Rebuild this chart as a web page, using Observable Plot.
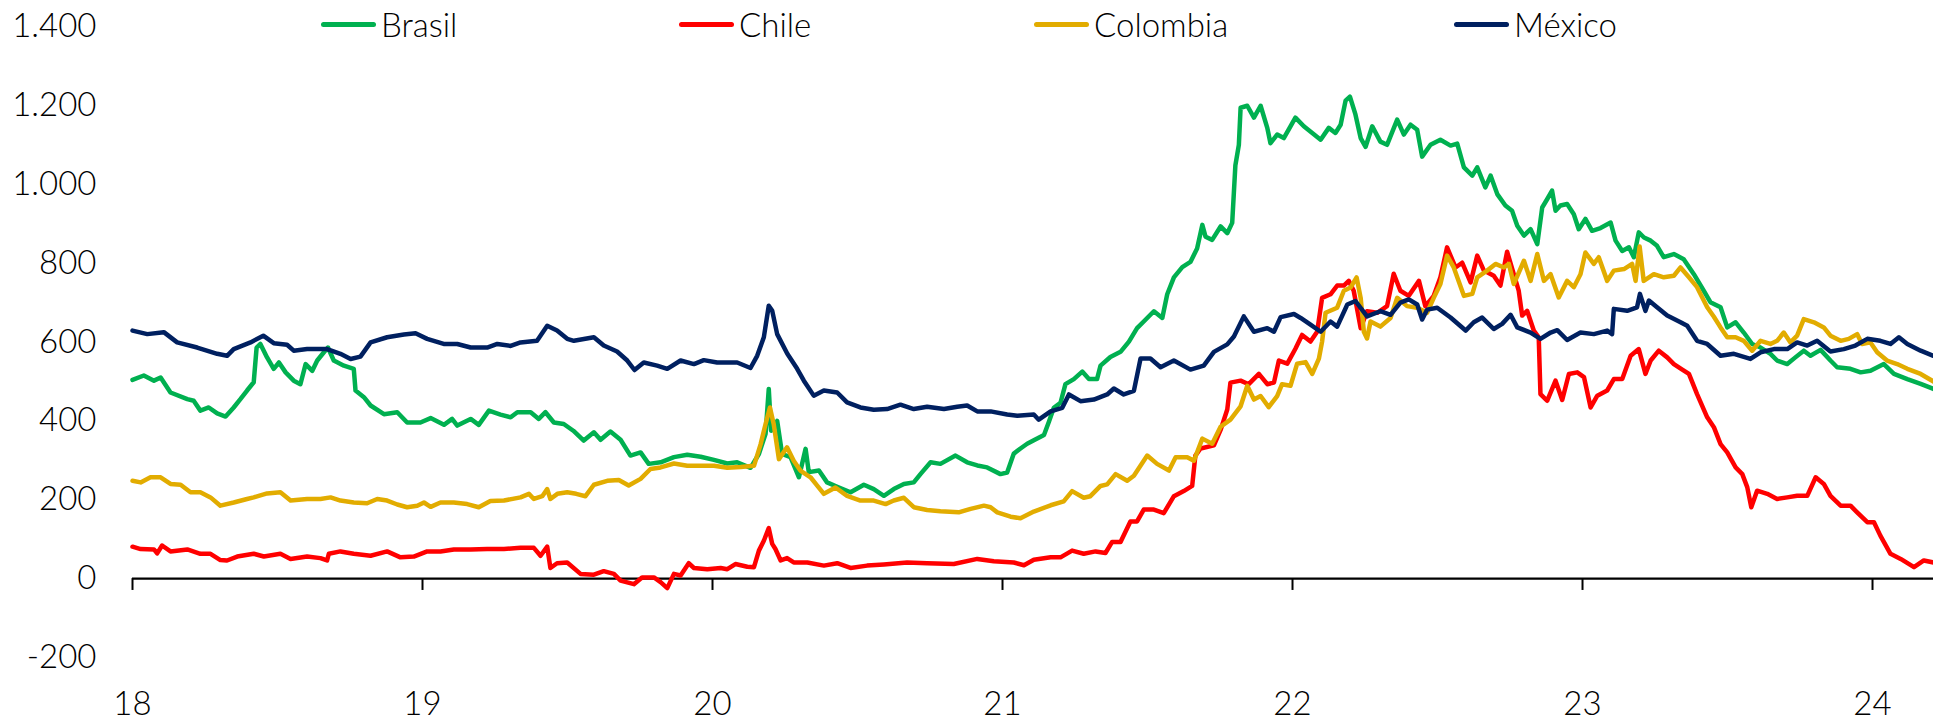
<!DOCTYPE html>
<html>
<head>
<meta charset="utf-8">
<script src="https://cdn.jsdelivr.net/npm/d3@7"></script>
<script src="https://cdn.jsdelivr.net/npm/@observablehq/plot@0.6"></script>
<style>
  html, body { margin: 0; padding: 0; background: #fff; }
  #wrap { position: relative; width: 1933px; height: 721px; font-family: Lato, "Open Sans", sans-serif; font-weight: 300; color: #000; }
  #legend { position: absolute; left: 0; top: 0; width: 1933px; height: 50px; pointer-events: none; }
  .item { position: absolute; top: 8px; height: 33px; line-height: 33px; display: flex; align-items: center; font-size: 33px; white-space: nowrap; }
  .sw { width: 55px; height: 5px; border-radius: 3px; margin-right: 5px; }
  #chart svg { display: block; }
</style>
</head>
<body>
<div id="wrap">
  <div id="chart"></div>
  <div id="legend"></div>
</div>
<script>
// Tick values
const xTicks = [18, 19, 20, 21, 22, 23, 24];
const yTicks = [-200, 0, 200, 400, 600, 800, 1000, 1200, 1400];

// Series names and colours
const names = ["Brasil", "Chile", "Colombia", "México"];
const colors = ["#00B050", "#FF0000", "#E2AC00", "#002060"];

// [year (two-digit, decimal), value]
const brasil = [
[18.000,504],[18.039,515],[18.074,502],[18.097,510],[18.131,472],[18.189,455],[18.211,451],[18.234,426],[18.263,434],[18.292,419],[18.321,411],[18.349,434],[18.372,455],[18.395,477],[18.418,498],[18.428,586],[18.441,595],[18.464,561],[18.487,532],[18.505,548],[18.528,523],[18.556,502],[18.579,493],[18.597,544],[18.620,527],[18.637,553],[18.660,574],[18.674,586],[18.694,553],[18.729,540],[18.763,532],[18.769,477],[18.798,460],[18.821,439],[18.867,417],[18.913,422],[18.947,396],[18.993,396],[19.028,407],[19.074,390],[19.102,405],[19.120,388],[19.166,405],[19.194,390],[19.229,426],[19.269,416],[19.304,409],[19.327,422],[19.373,422],[19.401,405],[19.424,422],[19.453,396],[19.487,392],[19.520,375],[19.556,350],[19.591,371],[19.614,352],[19.648,373],[19.683,352],[19.717,312],[19.752,320],[19.780,291],[19.821,295],[19.867,308],[19.913,314],[19.959,309],[20.005,301],[20.051,292],[20.085,295],[20.131,281],[20.160,316],[20.183,367],[20.194,481],[20.202,375],[20.223,400],[20.240,316],[20.269,308],[20.298,257],[20.321,329],[20.332,270],[20.367,274],[20.395,244],[20.430,233],[20.476,219],[20.522,238],[20.556,227],[20.591,210],[20.625,227],[20.660,240],[20.694,244],[20.717,265],[20.752,295],[20.786,291],[20.838,312],[20.878,295],[20.913,287],[20.947,282],[20.993,265],[21.016,269],[21.039,317],[21.062,330],[21.085,342],[21.108,351],[21.143,364],[21.160,398],[21.177,433],[21.200,446],[21.217,493],[21.246,506],[21.275,525],[21.298,506],[21.326,506],[21.338,540],[21.372,562],[21.407,575],[21.436,601],[21.464,635],[21.487,652],[21.522,678],[21.551,661],[21.568,721],[21.591,764],[21.620,790],[21.648,803],[21.671,837],[21.689,897],[21.700,867],[21.723,859],[21.752,893],[21.775,876],[21.792,902],[21.803,1048],[21.815,1100],[21.821,1194],[21.844,1199],[21.867,1169],[21.890,1199],[21.913,1143],[21.924,1104],[21.947,1126],[21.970,1117],[21.993,1147],[22.010,1169],[22.039,1147],[22.068,1130],[22.097,1113],[22.125,1143],[22.148,1130],[22.166,1151],[22.183,1212],[22.198,1222],[22.217,1177],[22.235,1117],[22.252,1095],[22.275,1147],[22.303,1108],[22.326,1100],[22.361,1164],[22.384,1126],[22.407,1151],[22.430,1138],[22.447,1070],[22.476,1100],[22.510,1113],[22.545,1098],[22.568,1103],[22.591,1043],[22.620,1022],[22.637,1043],[22.665,992],[22.683,1022],[22.706,975],[22.734,946],[22.757,933],[22.775,895],[22.798,870],[22.821,886],[22.844,848],[22.861,941],[22.878,962],[22.895,984],[22.907,933],[22.924,946],[22.947,950],[22.970,924],[22.987,886],[23.010,912],[23.033,882],[23.062,889],[23.097,903],[23.114,857],[23.137,831],[23.160,840],[23.177,815],[23.194,878],[23.212,865],[23.235,857],[23.257,844],[23.280,815],[23.315,823],[23.349,810],[23.384,772],[23.418,730],[23.441,701],[23.476,688],[23.499,637],[23.528,650],[23.556,624],[23.585,595],[23.614,586],[23.648,570],[23.671,553],[23.706,544],[23.734,561],[23.763,578],[23.786,565],[23.821,580],[23.855,553],[23.878,536],[23.924,532],[23.959,523],[23.993,527],[24.039,544],[24.074,519],[24.120,506],[24.166,494],[24.210,481]
];

const chile = [
[18.000,81],[18.028,75],[18.074,74],[18.085,64],[18.102,84],[18.131,69],[18.189,74],[18.234,63],[18.269,63],[18.303,47],[18.326,46],[18.361,56],[18.418,63],[18.453,56],[18.510,63],[18.545,50],[18.602,56],[18.648,52],[18.671,46],[18.677,63],[18.717,69],[18.763,63],[18.821,58],[18.878,69],[18.924,54],[18.970,56],[19.016,69],[19.062,69],[19.108,74],[19.166,74],[19.223,75],[19.281,75],[19.338,78],[19.384,78],[19.407,58],[19.430,81],[19.441,27],[19.464,39],[19.499,41],[19.545,12],[19.591,10],[19.625,19],[19.660,12],[19.683,-5],[19.729,-14],[19.757,3],[19.798,3],[19.821,-9],[19.844,-24],[19.867,12],[19.890,8],[19.918,39],[19.936,27],[19.982,24],[20.028,27],[20.051,24],[20.079,37],[20.120,30],[20.143,29],[20.160,71],[20.177,96],[20.194,128],[20.206,88],[20.217,75],[20.235,46],[20.257,52],[20.280,41],[20.327,41],[20.384,33],[20.430,39],[20.476,27],[20.533,33],[20.591,36],[20.671,41],[20.740,39],[20.832,37],[20.913,50],[20.970,44],[21.039,41],[21.074,34],[21.108,48],[21.166,54],[21.200,54],[21.240,71],[21.280,63],[21.321,69],[21.355,65],[21.378,93],[21.407,93],[21.441,145],[21.464,145],[21.487,175],[21.522,175],[21.556,166],[21.591,209],[21.625,222],[21.654,235],[21.665,312],[21.683,330],[21.729,338],[21.752,377],[21.775,429],[21.786,497],[21.821,502],[21.849,493],[21.884,519],[21.913,493],[21.936,497],[21.953,553],[21.982,545],[22.010,583],[22.033,618],[22.062,601],[22.085,626],[22.102,712],[22.131,721],[22.154,743],[22.177,743],[22.194,755],[22.211,730],[22.235,635],[22.257,678],[22.292,674],[22.326,691],[22.349,773],[22.372,730],[22.401,717],[22.436,755],[22.458,691],[22.487,717],[22.510,764],[22.533,840],[22.562,789],[22.585,801],[22.614,751],[22.637,819],[22.660,781],[22.694,768],[22.717,743],[22.740,829],[22.763,772],[22.780,730],[22.792,667],[22.809,679],[22.832,629],[22.849,612],[22.855,468],[22.878,451],[22.907,502],[22.930,453],[22.953,519],[22.982,523],[23.005,511],[23.028,434],[23.051,464],[23.085,477],[23.108,506],[23.137,506],[23.166,565],[23.194,582],[23.217,519],[23.235,553],[23.263,578],[23.292,561],[23.315,544],[23.344,530],[23.367,519],[23.395,468],[23.430,409],[23.453,384],[23.476,341],[23.499,320],[23.528,282],[23.551,265],[23.568,232],[23.582,181],[23.602,223],[23.637,215],[23.671,202],[23.706,206],[23.740,210],[23.775,210],[23.804,257],[23.832,240],[23.855,210],[23.890,185],[23.924,185],[23.947,168],[23.982,143],[24.005,143],[24.027,109],[24.062,63],[24.097,50],[24.143,29],[24.177,46],[24.210,41]
];

const colombia = [
[18.000,248],[18.028,244],[18.062,257],[18.097,257],[18.131,240],[18.166,238],[18.200,219],[18.234,219],[18.269,206],[18.303,185],[18.349,193],[18.395,202],[18.418,206],[18.464,216],[18.510,219],[18.545,198],[18.602,202],[18.648,202],[18.683,206],[18.717,198],[18.763,193],[18.809,191],[18.844,202],[18.878,198],[18.913,188],[18.947,181],[18.982,185],[19.005,193],[19.028,182],[19.062,193],[19.108,193],[19.154,189],[19.194,181],[19.234,197],[19.281,198],[19.338,206],[19.367,215],[19.384,202],[19.413,209],[19.430,227],[19.441,202],[19.465,215],[19.499,219],[19.530,215],[19.562,209],[19.591,238],[19.637,248],[19.677,250],[19.711,236],[19.752,253],[19.786,278],[19.821,282],[19.867,292],[19.913,286],[19.959,286],[20.005,286],[20.051,281],[20.097,283],[20.143,286],[20.166,341],[20.183,392],[20.198,434],[20.211,392],[20.229,303],[20.257,333],[20.280,299],[20.303,274],[20.338,257],[20.361,236],[20.384,215],[20.424,231],[20.464,210],[20.510,198],[20.556,198],[20.597,189],[20.625,198],[20.660,205],[20.694,181],[20.740,174],[20.786,171],[20.849,168],[20.890,177],[20.936,185],[20.959,181],[20.982,168],[21.028,157],[21.062,153],[21.108,170],[21.166,186],[21.211,196],[21.240,222],[21.280,205],[21.303,209],[21.338,235],[21.361,239],[21.390,265],[21.430,248],[21.453,261],[21.499,312],[21.533,291],[21.574,274],[21.597,308],[21.637,308],[21.660,299],[21.689,355],[21.723,342],[21.752,385],[21.786,403],[21.821,437],[21.844,489],[21.867,454],[21.890,463],[21.918,435],[21.947,463],[21.964,493],[21.993,489],[22.016,545],[22.045,549],[22.068,519],[22.091,558],[22.102,601],[22.114,674],[22.154,687],[22.177,730],[22.200,738],[22.221,764],[22.235,712],[22.246,626],[22.257,609],[22.269,652],[22.303,639],[22.338,661],[22.361,712],[22.395,691],[22.430,687],[22.464,674],[22.487,712],[22.510,747],[22.533,819],[22.556,789],[22.591,717],[22.620,722],[22.637,764],[22.671,781],[22.700,798],[22.729,789],[22.746,798],[22.763,747],[22.798,806],[22.821,755],[22.844,823],[22.867,755],[22.890,772],[22.918,713],[22.947,755],[22.970,739],[22.993,772],[23.010,827],[23.039,798],[23.056,815],[23.085,755],[23.108,781],[23.143,785],[23.171,798],[23.183,755],[23.197,842],[23.211,755],[23.246,772],[23.280,764],[23.315,768],[23.338,789],[23.367,764],[23.395,739],[23.430,688],[23.453,664],[23.476,637],[23.499,612],[23.528,612],[23.556,603],[23.585,578],[23.614,603],[23.648,595],[23.671,603],[23.694,624],[23.717,599],[23.740,616],[23.763,658],[23.798,650],[23.832,637],[23.855,616],[23.890,603],[23.918,608],[23.947,620],[23.964,595],[23.993,599],[24.016,574],[24.050,553],[24.085,544],[24.120,532],[24.166,519],[24.210,500]
];

const mexico = [
[18.000,629],[18.051,620],[18.108,625],[18.154,599],[18.223,586],[18.292,570],[18.326,565],[18.349,582],[18.407,599],[18.451,616],[18.487,597],[18.533,593],[18.556,578],[18.602,582],[18.671,582],[18.717,570],[18.752,557],[18.786,563],[18.821,599],[18.878,612],[18.936,619],[18.976,622],[19.016,608],[19.073,595],[19.120,595],[19.166,586],[19.223,586],[19.258,595],[19.304,590],[19.338,599],[19.395,603],[19.430,641],[19.464,629],[19.499,608],[19.522,603],[19.591,612],[19.625,591],[19.671,576],[19.706,553],[19.731,529],[19.763,548],[19.809,540],[19.844,532],[19.890,553],[19.936,544],[19.970,554],[20.016,548],[20.085,548],[20.131,534],[20.154,565],[20.177,612],[20.194,692],[20.206,679],[20.223,620],[20.258,570],[20.292,532],[20.315,502],[20.349,464],[20.384,477],[20.430,472],[20.464,447],[20.510,434],[20.556,428],[20.602,430],[20.648,441],[20.694,430],[20.740,436],[20.798,430],[20.844,436],[20.878,439],[20.913,424],[20.959,424],[21.016,416],[21.051,413],[21.108,416],[21.125,403],[21.166,424],[21.206,433],[21.229,467],[21.269,450],[21.315,454],[21.361,467],[21.384,482],[21.418,467],[21.453,476],[21.476,558],[21.510,558],[21.545,536],[21.591,553],[21.648,530],[21.694,540],[21.729,575],[21.775,594],[21.798,614],[21.832,665],[21.867,626],[21.913,635],[21.936,626],[21.959,663],[22.005,671],[22.028,661],[22.062,644],[22.097,626],[22.131,652],[22.154,639],[22.189,695],[22.217,704],[22.257,665],[22.303,678],[22.338,669],[22.372,700],[22.401,708],[22.430,695],[22.447,657],[22.464,682],[22.499,687],[22.545,662],[22.597,629],[22.625,650],[22.654,662],[22.694,633],[22.723,646],[22.752,669],[22.775,637],[22.821,624],[22.855,608],[22.890,624],[22.913,630],[22.947,605],[22.993,624],[23.039,620],[23.085,629],[23.102,620],[23.108,684],[23.154,679],[23.188,688],[23.198,722],[23.217,679],[23.229,705],[23.257,688],[23.292,667],[23.338,650],[23.361,641],[23.395,603],[23.430,595],[23.476,565],[23.522,570],[23.579,557],[23.614,574],[23.660,582],[23.706,582],[23.740,599],[23.775,591],[23.809,603],[23.855,576],[23.901,582],[23.941,591],[23.982,608],[24.027,603],[24.062,595],[24.091,612],[24.120,595],[24.166,578],[24.210,565]
];

const seriesData = [brasil, chile, colombia, mexico];

// Spanish-style number format: 1.400, -200
const esLocale = d3.formatLocale({ decimal: ",", thousands: ".", grouping: [3], currency: ["", " €"], minus: "-" });
const fmtY = esLocale.format(",d");

const lineMarks = seriesData.map((data, i) =>
  Plot.line(data, {
    x: d => d[0],
    y: d => d[1],
    stroke: colors[i],
    strokeWidth: 4.5,
    strokeLinejoin: "round",
    strokeLinecap: "round"
  })
);

const chart = Plot.plot({
  width: 1933,
  height: 721,
  marginLeft: 132,
  marginRight: 0,
  marginTop: 26,
  marginBottom: 64,
  x: { domain: [18, 24.2103] },
  y: { domain: [-200, 1400] },
  style: { fontFamily: "Lato, 'Open Sans', sans-serif", fontSize: "33px", fontWeight: 300, color: "#000", background: "#fff", overflow: "visible" },
  marks: [
    Plot.axisY({ ticks: yTicks, tickSize: 0, tickPadding: 36, tickFormat: fmtY, label: null, fill: "#000" }),
    Plot.axisX({ ticks: xTicks, tickSize: 0, tickPadding: 34, tickFormat: d => String(d), label: null, fill: "#000" }),
    Plot.ruleY([0], { stroke: "#000", strokeWidth: 2.2 }),
    Plot.ruleX(xTicks, { x: d => d, y1: 0, y2: -30, stroke: "#000", strokeWidth: 2 }),
    ...lineMarks
  ]
});
document.getElementById("chart").appendChild(chart);

// Legend (HTML overlay in the top band)
const legendLeft = [321, 679, 1034, 1454];
const legend = document.getElementById("legend");
names.forEach((n, i) => {
  const item = document.createElement("div");
  item.className = "item";
  item.style.left = legendLeft[i] + "px";
  const sw = document.createElement("span");
  sw.className = "sw";
  sw.style.background = colors[i];
  const tx = document.createElement("span");
  tx.textContent = n;
  item.appendChild(sw);
  item.appendChild(tx);
  legend.appendChild(item);
});
</script>
</body>
</html>
